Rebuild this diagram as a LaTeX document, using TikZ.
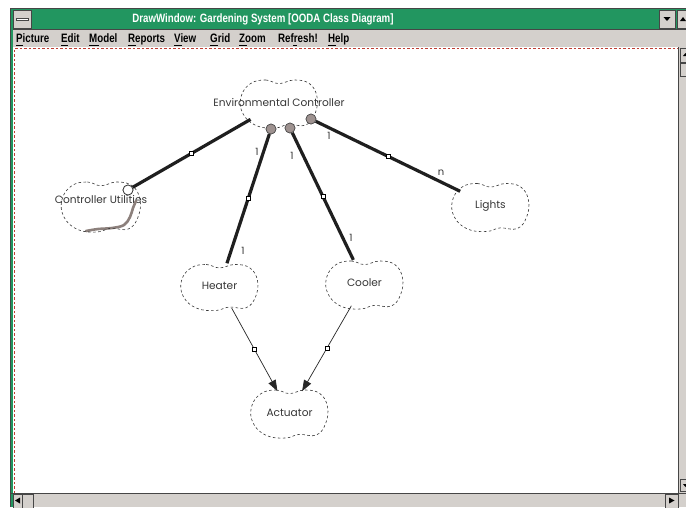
\documentclass[tikz,border=0pt]{standalone}
\usepackage{fontspec}
\setmainfont{Liberation Sans}
\newfontfamily\uifont[FakeStretch=0.80]{Liberation Sans}
\newfontfamily\diagfont{Poppins}
\usetikzlibrary{shapes.geometric,arrows.meta}

\definecolor{titlegreen}{RGB}{34,150,96}
\definecolor{chrome}{RGB}{212,208,204}
\definecolor{chromedark}{RGB}{70,70,70}
\definecolor{borderred}{RGB}{190,60,50}
\definecolor{dotgray}{RGB}{158,146,144}
\definecolor{shadowgray}{RGB}{140,128,124}
\definecolor{inkgray}{RGB}{55,55,55}

\tikzset{
  classblob/.style={ellipse, draw=none, inner sep=0pt,
    minimum width=#1, minimum height=48pt,
    label={[font=\diagfont\fontsize{10.6}{12}\selectfont, text=inkgray]center:\blobtext}},
  blobline/.style={draw=inkgray, line width=0.6pt, dash pattern=on 2.6pt off 2.4pt},
  assoc/.style={line width=3.2pt, draw=black!88},
  uses/.style={line width=0.7pt, draw=black!85,
    -{Triangle[length=11pt,width=8pt]}, shorten >=-1pt},
  midsq/.style={draw=black, fill=white, line width=0.5pt,
    minimum size=4pt, inner sep=0pt, rectangle},
  graydot/.style={circle, draw=black!70, fill=dotgray, line width=0.6pt,
    minimum size=10pt, inner sep=0pt},
  hollowdot/.style={circle, draw=black!80, fill=white, line width=0.7pt,
    minimum size=10pt, inner sep=0pt},
  mult/.style={font=\diagfont\fontsize{10}{11}\selectfont, text=inkgray, inner sep=0pt},
  menuitem/.style={font=\uifont\bfseries\fontsize{12.2}{13}\selectfont, text=black,
    inner sep=0pt, anchor=base west},
  btn/.style={draw=chromedark, fill=chrome, line width=0.6pt},
}

% dashed cloud outline around a class node (#4: vertical offset of the outline)
\newcommand\blobdraw[4]{%
  \draw[blobline, shift={(#1.center)}, yshift=-#4pt, x=#2pt, y=-#3pt]
    plot[smooth cycle, tension=0.7] coordinates {
      (-0.75,-0.85) (-0.35,-1.0) (0.0,-0.85) (0.4,-1.0) (0.8,-0.85)
      (1.0,-0.3) (0.95,0.4) (0.7,0.88) (0.25,0.85) (-0.1,1.0)
      (-0.6,0.9) (-0.95,0.4) (-1.0,-0.3)};}

\begin{document}
\begin{tikzpicture}[x=1pt,y=-1pt]
\useasboundingbox (0,0) rectangle (686,507);
\fill[white] (0,0) rectangle (686,507);

% ---------- window frame ----------
\fill[titlegreen] (10,8) rectangle (686,29);
\fill[titlegreen] (10,29) rectangle (13,507);
\draw[chromedark, line width=0.8pt] (10,507) -- (10,8) -- (686,8);
\node[font=\uifont\bfseries\fontsize{12.1}{13}\selectfont, text=white, inner sep=0pt]
  (title) at (263,19) {DrawWindow: Gardening System [OODA Class Diagram]};

% system menu box
\draw[btn] (13,10) rectangle (31,28);
\fill[white] (16,18) rectangle (28,20.5);
\draw[chromedark, line width=0.5pt] (16,18) rectangle (28,20.5);
% title buttons
\draw[btn] (659,10) rectangle (675,28);
\fill[black] (663.5,17) -- (670.5,17) -- (667,21) -- cycle;
\draw[btn] (677,10) rectangle (688,28);
\fill[black] (680,21) -- (686,21) -- (683,17) -- cycle;

% menu bar
\fill[chrome] (13,29) rectangle (686,47);
\draw[chromedark, line width=0.5pt] (13,29) -- (686,29);
\foreach \lbl/\xx in {Picture/16, Edit/61, Model/89, Reports/128, View/174,
                      Grid/210, Zoom/239, Refresh!/278, Help/328}
  \node[menuitem] at (\xx,42.5) {\lbl};
% menu mnemonics
\foreach \ua/\ub in {16/23, 61/68, 89/99, 128/136, 174/182, 210/218,
                     239/246.5, 293/297, 328/336}
  \draw[black, line width=0.6pt] (\ua,45) -- (\ub,45);

% canvas
\fill[white] (13,47) rectangle (678,493);
\draw[borderred, line width=0.8pt, dash pattern=on 2.5pt off 2pt]
  (14.5,493) -- (14.5,48.5) -- (678,48.5);

% right scrollbar
\fill[chrome] (678.5,47) rectangle (686,493);
\draw[chromedark, line width=0.8pt] (678.5,47) -- (678.5,493);
\draw[btn] (680,48.5) rectangle (688,62);
\fill[black] (683,56) -- (688,56) -- (685.5,53) -- cycle;
\draw[btn] (680,63) rectangle (688,76);
\draw[btn] (680,479) rectangle (688,491);
\fill[black] (683,484) -- (688,484) -- (685.5,487) -- cycle;

% bottom scrollbar
\fill[chrome] (13,493) rectangle (686,507);
\draw[chromedark, line width=0.8pt] (10,493) -- (686,493);
\draw[btn] (13,494) rectangle (22,508);
\fill[black] (15,500.5) -- (20,497.5) -- (20,503.5) -- cycle;
\draw[btn] (22,494) rectangle (33,508);
\draw[btn] (665,494) rectangle (678,508);
\fill[black] (674.5,500.5) -- (669,497.5) -- (669,503.5) -- cycle;

% ---------- class diagram ----------
\def\blobtext{Environmental Controller}
\node[classblob=77pt] (ec) at (279,103) {};
\def\blobtext{Controller Utilities}
\node[classblob=78pt] (cu) at (101,200) {};
\def\blobtext{Lights}
\node[classblob=76pt] (lights) at (490.5,206) {};
\def\blobtext{Heater}
\node[classblob=76pt, minimum height=46pt] (heater) at (219.5,286) {};
\def\blobtext{Cooler}
\node[classblob=76pt, minimum height=48pt] (cooler) at (364.5,283) {};
\def\blobtext{Actuator}
\node[classblob=76pt] (actuator) at (289.5,413) {};

% shading stroke under Controller Utilities
\draw[shadowgray, line width=2.6pt, line cap=round]
  plot[smooth, tension=0.6] coordinates
  {(86,231) (98,229) (112,228) (124,225) (130,217) (133,208) (136,201)};

% outlines
\blobdraw{ec}{38}{24}{1}
\blobdraw{cu}{39}{25}{7}
\blobdraw{lights}{38}{24}{1.5}
\blobdraw{heater}{38}{23}{1.5}
\blobdraw{cooler}{38}{24}{2}
\blobdraw{actuator}{38}{24}{1}

% association ends on the controller
\node[graydot] (ecH) at (271,129) {};
\node[graydot] (ecC) at (290,128) {};
\node[graydot] (ecL) at (311,119) {};
\node[hollowdot] (cuE) at (128,190) {};

% associations
\draw[assoc] (ec) -- node[midsq, pos=0.5] {} (cuE);
\draw[assoc] (ecH) -- node[midsq, pos=0.5] {} (heater);
\draw[assoc] (ecC) -- node[midsq, pos=0.5] {} (cooler);
\draw[assoc] (ecL) -- node[midsq, pos=0.5] {} (lights);
\node[graydot] at (ecH) {};
\node[graydot] at (ecC) {};
\node[graydot] at (ecL) {};
\node[hollowdot] at (cuE) {};

% multiplicities
\node[mult] (m1) at (257,152) {1};
\node[mult] (m2) at (243,251) {1};
\node[mult] (m3) at (292,156) {1};
\node[mult] (m4) at (351,238) {1};
\node[mult] (m5) at (329,136) {1};
\node[mult] (m6) at (441,173) {n};

% uses relations
\draw[uses] (heater) -- node[midsq, pos=0.5] {} (actuator);
\draw[uses] (cooler) -- node[midsq, pos=0.5] {} (actuator);
\end{tikzpicture}
\end{document}
